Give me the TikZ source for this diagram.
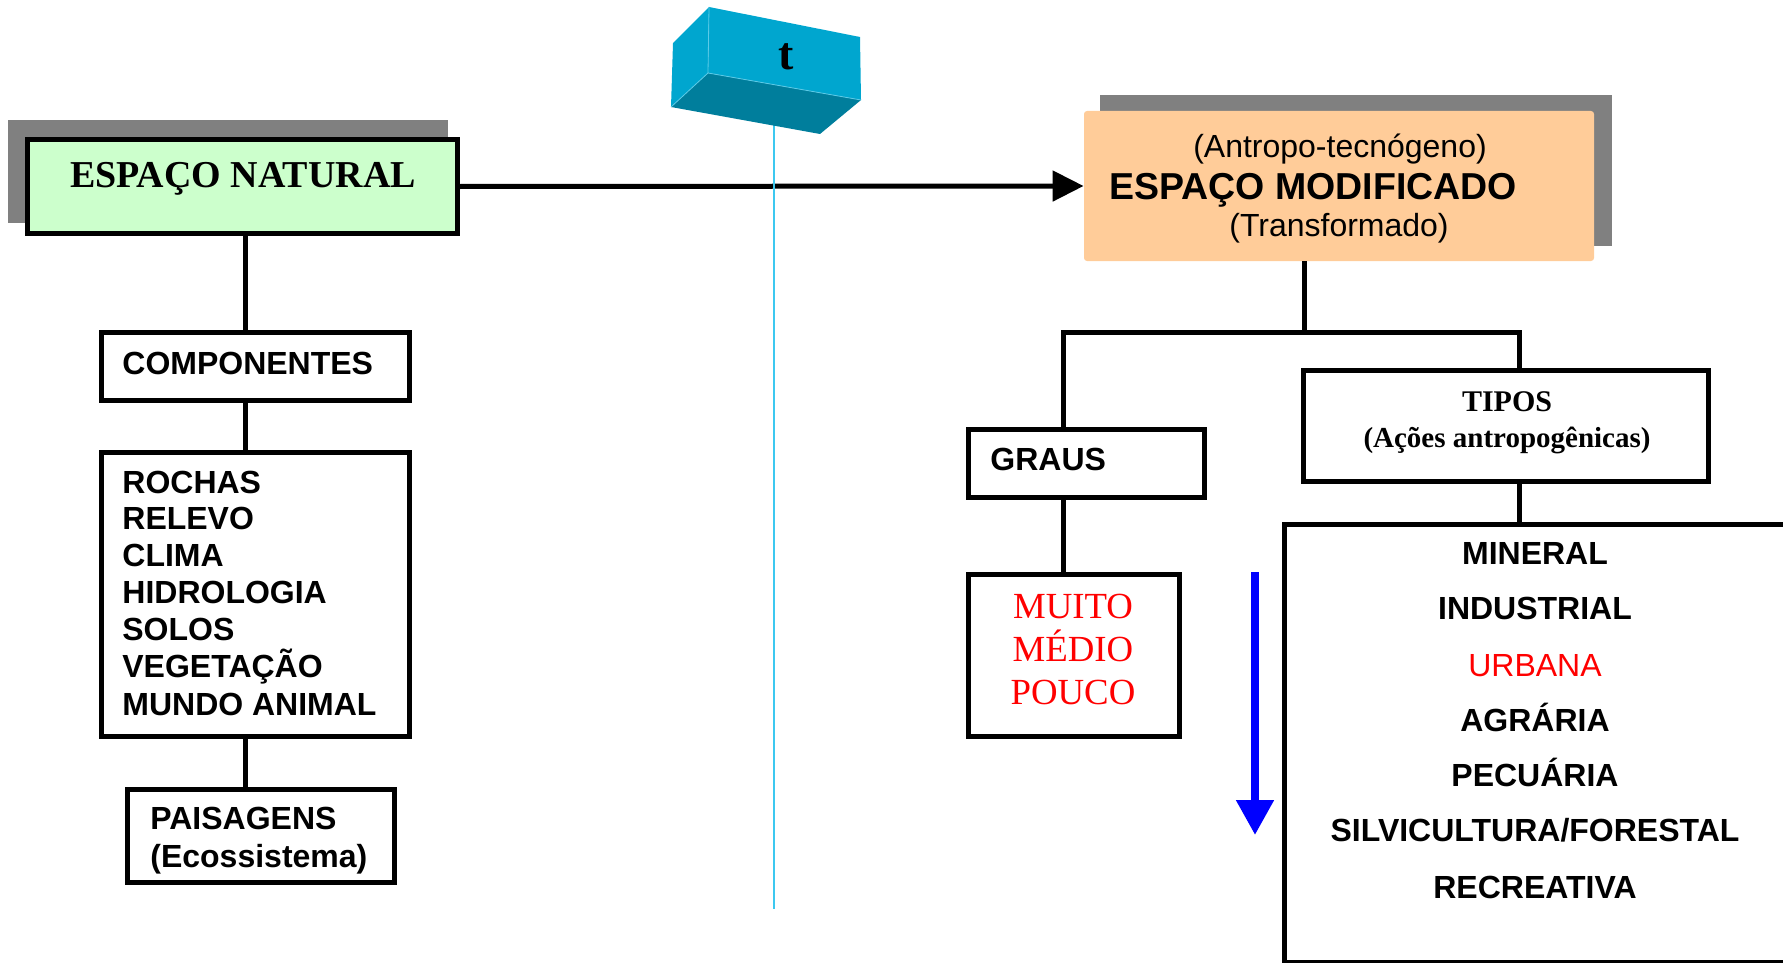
\documentclass[tikz,border=0pt]{standalone}
\usepackage{fontspec}
\setmainfont{Liberation Serif}
\newfontfamily\arial{Liberation Sans}
\usetikzlibrary{arrows.meta}
\definecolor{natgreen}{HTML}{CCFFCC}
\definecolor{modorange}{HTML}{FFCC99}
\definecolor{shadowgray}{HTML}{808080}
\definecolor{cubefront}{HTML}{00A6CF}
\definecolor{cubebottom}{HTML}{007E9C}
\definecolor{cubeedge}{HTML}{5CCBE8}
\definecolor{cyanline}{HTML}{3CC8F0}
\definecolor{redtxt}{HTML}{FF0000}
\begin{document}
\begin{tikzpicture}[x=0.5pt,y=-0.5pt,
  box/.style={draw=black,line width=2.5pt,fill=white,inner sep=0pt,rectangle},
  conn/.style={line width=2.5pt,draw=black},
  sansb/.style={font=\arial\bfseries\fontsize{16pt}{18pt}\selectfont,inner sep=0pt},
  sansr/.style={font=\arial\fontsize{16pt}{18pt}\selectfont,inner sep=0pt},
  serifb/.style={font=\bfseries\fontsize{19pt}{21pt}\selectfont,inner sep=0pt},
  serifr/.style={font=\fontsize{18.4pt}{20pt}\selectfont,inner sep=0pt,text=redtxt},
  shadowbox/.style={fill=shadowgray}
]
\useasboundingbox (0,0) rectangle (1783,963);
\clip (0,0) rectangle (1783,963);

% shadows
\fill[shadowbox] (8,120) rectangle (448,223);
\fill[shadowbox] (1100,95) rectangle (1612,246);

% boxes
\node[box,fill=natgreen,minimum width=215pt,minimum height=47pt] (nat) at (242.5,186.5) {};
\node[box,minimum width=154pt,minimum height=34pt] (comp) at (255.5,366.5) {};
\node[box,minimum width=154pt,minimum height=142pt] (list) at (255.5,594.5) {};
\node[box,minimum width=133.5pt,minimum height=46.5pt] (pais) at (261,836) {};
\node[rectangle,fill=modorange,rounded corners=1.5pt,inner sep=0pt,minimum width=255pt,minimum height=75pt] (mod) at (1339,186) {};
\node[box,minimum width=118pt,minimum height=34pt] (graus) at (1086.5,463.5) {};
\node[box,minimum width=105.5pt,minimum height=81pt] (muito) at (1074,655.5) {};
\node[box,minimum width=202.5pt,minimum height=55.5pt] (tipos) at (1506,426) {};
\node[box,minimum width=257.75pt,minimum height=219pt] (types) at (1542.25,743.5) {};

% connectors
\coordinate (lx) at (245,0);
\draw[conn] (nat.south -| lx) -- (comp.north -| lx);
\draw[conn] (comp.south -| lx) -- (list.north -| lx);
\draw[conn] (list.south -| lx) -- (pais.north -| lx);
\draw[conn,-{Triangle[length=15.5pt,width=15pt]}] (nat.east) -- (mod.west);
\coordinate (jm) at (1304,332);
\coordinate (jl) at (1063,332);
\coordinate (jr) at (1519,332);
\draw[conn] (mod.south -| jm) -- (jm);
\draw[conn] (graus.north -| jl) -- (jl) -- (jr) -- (tipos.north -| jr);
\draw[conn] (graus.south -| jl) -- (muito.north -| jl);
\draw[conn] (tipos.south -| jr) -- (types.north -| jr);

% blue arrow
\coordinate (ba1) at (1255,572);
\coordinate (ba2) at (1255,835);
\draw[line width=4pt,blue,-{Triangle[length=17.5pt,width=18pt]}] (ba1) -- (ba2);

% cyan time line
\coordinate (ct) at (774,120);
\coordinate (cb) at (774,909);
\draw[cyanline,line width=1.2pt] (ct) -- (cb);

% cube
\fill[cubefront] (709,7) -- (860,37) -- (861,100) -- (708,73) -- cycle;
\fill[cubefront] (709,7) -- (708,73) -- (671,107) -- (673,43) -- cycle;
\fill[cubebottom] (708,73) -- (861,100) -- (820,134) -- (671,107) -- cycle;
\draw[cubeedge,line width=0.4pt] (709,7) -- (708,73) -- (861,100);
\draw[cubeedge,line width=0.4pt] (708,73) -- (671,107);
\node[serifb,font=\bfseries\fontsize{23pt}{25pt}\selectfont,anchor=base] (tlab) at (786,70) {t};

% texts left
\node[serifb,anchor=base] (natt) at (243,187) {ESPAÇO NATURAL};
\node[sansb,anchor=base west] (compt) at (122,374) {COMPONENTES};
\node[sansb,anchor=base west] (l1) at (122,493) {ROCHAS};
\node[sansb,anchor=base west] (l2) at (122,529.5) {RELEVO};
\node[sansb,anchor=base west] (l3) at (122,566.5) {CLIMA};
\node[sansb,anchor=base west] (l4) at (122,603.5) {HIDROLOGIA};
\node[sansb,anchor=base west] (l5) at (122,640) {SOLOS};
\node[sansb,anchor=base west] (l6) at (122,677.5) {VEGETAÇÃO};
\node[sansb,anchor=base west] (l7) at (122,715) {MUNDO ANIMAL};
\node[sansb,anchor=base west] (p1) at (150,829.5) {PAISAGENS};
\node[sansb,anchor=base west] (p2) at (150,867) {(Ecossistema)};

% texts right
\node[sansr,anchor=base] (m1) at (1340,157) {(Antropo-tecnógeno)};
\node[sansb,font=\arial\bfseries\fontsize{18.75pt}{20pt}\selectfont,anchor=base west] (m2) at (1109,199) {ESPAÇO MODIFICADO};
\node[sansr,anchor=base] (m3) at (1339,236) {(Transformado)};
\node[sansb,anchor=base west] (gt) at (990,470) {GRAUS};
\node[serifb,font=\bfseries\fontsize{15pt}{17pt}\selectfont,anchor=base] (tt1) at (1507,411) {TIPOS};
\node[serifb,font=\bfseries\fontsize{14.5pt}{16pt}\selectfont,anchor=base] (tt2) at (1507,447) {(Ações antropogênicas)};
\node[serifr,anchor=base] (g1) at (1073,618) {MUITO};
\node[serifr,anchor=base] (g2) at (1073,661) {MÉDIO};
\node[serifr,anchor=base] (g3) at (1073,704.5) {POUCO};
\node[sansb,anchor=base] (y1) at (1535,564.5) {MINERAL};
\node[sansb,anchor=base] (y2) at (1535,619.5) {INDUSTRIAL};
\node[sansr,text=redtxt,anchor=base] (y3) at (1535,676.5) {URBANA};
\node[sansb,anchor=base] (y4) at (1535,731) {AGRÁRIA};
\node[sansb,anchor=base] (y5) at (1535,786) {PECUÁRIA};
\node[sansb,anchor=base] (y6) at (1535,841.5) {SILVICULTURA/FORESTAL};
\node[sansb,anchor=base] (y7) at (1535,898.5) {RECREATIVA};
\end{tikzpicture}
\end{document}
